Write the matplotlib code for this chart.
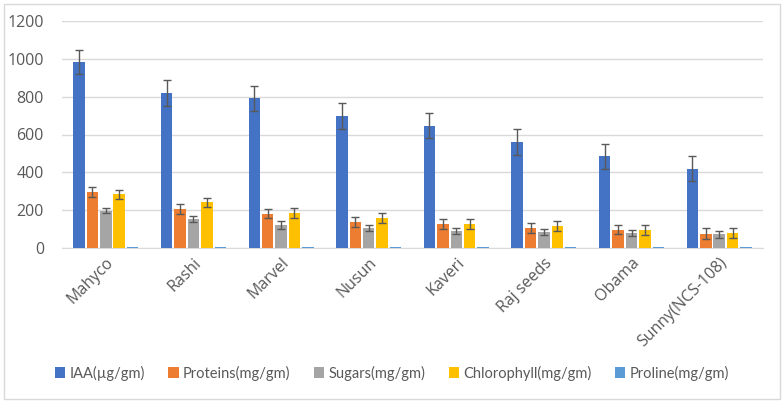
import numpy as np
import matplotlib
matplotlib.use('Agg')
import matplotlib.pyplot as plt
from matplotlib.patches import Rectangle

# 数据
varieties = ['Mahyco', 'Rashi', 'Marvel', 'Nusun', 'Kaveri', 'Raj seeds', 'Obama', 'Sunny(NCS-108)']
series_names = ['IAA(µg/gm)', 'Proteins(mg/gm)', 'Sugars(mg/gm)', 'Chlorophyll(mg/gm)', 'Proline(mg/gm)']

iaa = [984, 818, 792, 697, 647, 561, 485, 420]
proteins = [295, 206, 181, 136, 127, 104, 97, 76]
sugars = [197, 153, 122, 104, 90, 85, 78, 72]
chlorophyll = [284, 242, 185, 159, 127, 118, 95, 81]
proline = [4, 4, 4, 4, 4, 4, 4, 4]

iaa_err = [65, 68, 67, 67, 66, 67, 67, 68]
proteins_err = [26, 27, 25, 26, 26, 26, 25, 31]
sugars_err = [14, 17, 19, 16, 17, 17, 17, 18]
chlorophyll_err = [25, 24, 26, 25, 26, 26, 26, 26]
proline_err = [0, 0, 0, 0, 0, 0, 0, 0]

yticks = [0, 200, 400, 600, 800, 1000, 1200]

values = [iaa, proteins, sugars, chlorophyll, proline]
errors = [iaa_err, proteins_err, sugars_err, chlorophyll_err, proline_err]
colors = ['#4472C4', '#ED7D31', '#A5A5A5', '#FFC000', '#5B9BD5']

plt.rcParams['font.family'] = ['Open Sans', 'DejaVu Sans']

fig = plt.figure(figsize=(7.84, 4.03), dpi=100)
ax = fig.add_axes([62 / 784, 1 - 248 / 403, 701 / 784, 227 / 403])

x = np.arange(len(varieties))
step = 0.153
width = 0.131
for i, (vals, errs, c, name) in enumerate(zip(values, errors, colors, series_names)):
    pos = x + (i - 2) * step
    ax.bar(pos, vals, width, color=c, label=name, zorder=3)
    if any(errs):
        ax.errorbar(pos, vals, yerr=errs, fmt='none', ecolor='#595959',
                    elinewidth=1, capsize=3, capthick=1, zorder=4)

ax.set_xlim(-0.5, len(varieties) - 0.5)
ax.set_ylim(0, 1200)
ax.set_yticks(yticks)
ax.yaxis.grid(True, color='#D9D9D9', linewidth=1, zorder=0)
ax.set_axisbelow(True)
for s in ['top', 'right', 'left']:
    ax.spines[s].set_visible(False)
ax.spines['bottom'].set_color('#D9D9D9')
ax.tick_params(axis='both', length=0, colors='#595959', labelsize=11.5)
ax.tick_params(axis='y', pad=13)
ax.tick_params(axis='x', pad=5)
ax.set_xticks(x)
ax.set_xticklabels(varieties, rotation=45, ha='right', rotation_mode='anchor')

leg = fig.legend(loc='center', bbox_to_anchor=(392 / 784, 1 - 373 / 403), ncol=5,
                 frameon=False, handlelength=0.7, handleheight=0.7,
                 handletextpad=0.3, columnspacing=1.6, labelcolor='#595959',
                 prop={'family': ['Lato', 'DejaVu Sans'], 'size': 10.5})

# 外框
fig.patches.append(Rectangle((4 / 784, 4 / 403), 776 / 784, 395 / 403, transform=fig.transFigure,
                             fill=False, edgecolor='#D9D9D9', linewidth=1))

fig.savefig('out.png', dpi=100)
